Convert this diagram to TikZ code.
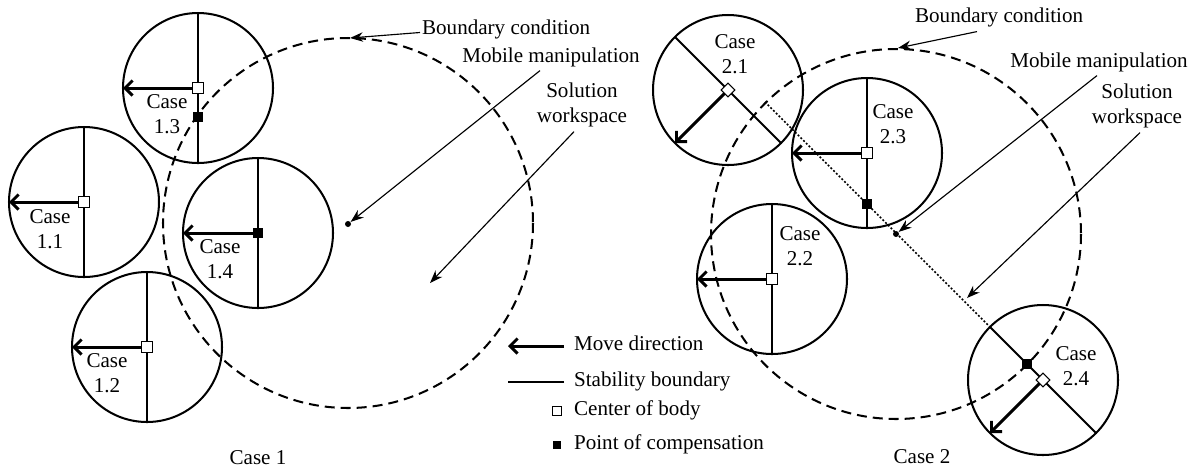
\documentclass[tikz,border=0pt]{standalone}
\usepackage{fontspec}
\setmainfont{Liberation Serif}
\usetikzlibrary{arrows.meta,shapes.geometric}

\begin{document}
\begin{tikzpicture}[x=0.02cm,y=-0.02cm,
  lbl/.style={font=\fontsize{12}{14.2}\selectfont, inner sep=1pt},
  one/.style={lbl, text height=1.6ex, text depth=0.5ex},
  casetxt/.style={lbl, align=center},
  zone/.style={line width=1.15pt},
  bound/.style={line width=1.15pt, dash pattern=on 0.2cm off 0.12cm},
  move/.style={line width=1.7pt, -{Straight Barb[length=0.15cm,width=0.3cm]}},
  note/.style={line width=0.65pt, -{Stealth[length=0.26cm,width=0.19cm]}},
  cob/.style={draw, fill=white, line width=0.6pt, inner sep=0pt, minimum size=0.21cm},
  poc/.style={fill=black, inner sep=0pt, minimum size=0.2cm},
  cobd/.style={diamond, draw, fill=white, line width=0.6pt, inner sep=0pt, minimum size=0.28cm},
  mm/.style={circle, fill=black, inner sep=0pt, minimum size=0.12cm},
]
\useasboundingbox (0,0) rectangle (1204,468);

% ---------------- Case 1 ----------------
\coordinate (c13) at (198,88);
\coordinate (c11) at (84,202);
\coordinate (c14) at (258,233);
\coordinate (c12) at (147,347);
\coordinate (w1) at (348,223);

\foreach \c in {c13,c11,c14,c12}{
  \draw[zone] (\c) circle[radius=75];
  \draw[zone] (\c) ++(0,-75) -- ++(0,150);
  \draw[move] (\c) -- ++(-75,0);
}
\draw[bound] (w1) circle[radius=185];

\node[cob] (b13) at (c13) {};
\node[poc] (p13) at (198,117) {};
\node[cob] (b11) at (c11) {};
\node[poc] (p14) at (c14) {};
\node[cob] (b12) at (c12) {};
\node[mm] (mm1) at (348,224) {};

\node[casetxt] (t13) at (167,114.5) {Case\\1.3};
\node[casetxt] (t11) at (50,229.5) {Case\\1.1};
\node[casetxt] (t14) at (220,259.5) {Case\\1.4};
\node[casetxt] (t12) at (107,373) {Case\\1.2};

\node[one, anchor=west] (bc1) at (420,30) {Boundary condition};
\coordinate (bc1p) at (350,38);
\draw[note] ([yshift=-0.05cm]bc1.west) -- (bc1p);

\node[one] (mmt1) at (551,58) {Mobile manipulation};
\draw[note] ([xshift=-0.22cm,yshift=-0.04cm]mmt1.south) -- (mm1);

\node[casetxt] (swt1) at (582,104.5) {Solution\\workspace};
\coordinate (sw1p) at (430,283);
\draw[note] ([xshift=-0.16cm,yshift=-0.06cm]swt1.south) -- (sw1p);

\node[lbl] (cap1) at (258,458) {Case 1};

% ---------------- Case 2 ----------------
\coordinate (c21) at (728,90);
\coordinate (c23) at (867,153);
\coordinate (c22) at (772,279);
\coordinate (c24) at (1043,380);
\coordinate (w2) at (896,234);

\foreach \c in {c21,c23,c22,c24}{
  \draw[zone] (\c) circle[radius=75];
}
\draw[zone] (c23) ++(0,-75) -- ++(0,150);
\draw[zone] (c22) ++(0,-75) -- ++(0,150);
\draw[zone] (c21) ++(-53,-53) -- ++(106,106);
\draw[zone] (c24) ++(-53,-53) -- ++(106,106);
\draw[move] (c23) -- ++(-75,0);
\draw[move] (c22) -- ++(-75,0);
\draw[move] (c21) -- ++(-53,53);
\draw[move] (c24) -- ++(-53,53);
\draw[bound] (w2) circle[radius=185];

% line of compensation points
\coordinate (d1) at (765,102);
\coordinate (d2) at (990,327);
\draw[line width=0.9pt, dash pattern=on 1.1pt off 1.1pt] (d1) -- (d2);

\node[cobd] (b21) at (c21) {};
\node[cob] (b23) at (c23) {};
\node[poc] (p23) at (867,204) {};
\node[cob] (b22) at (c22) {};
\node[poc] (p24) at (1027,364) {};
\node[cobd] (b24) at (c24) {};
\node[mm] (mm2) at (896,234) {};

\node[casetxt] (t21) at (735,54.5) {Case\\2.1};
\node[casetxt] (t23) at (893,124.5) {Case\\2.3};
\node[casetxt] (t22) at (800,246.5) {Case\\2.2};
\node[casetxt] (t24) at (1076,366.5) {Case\\2.4};

\node[one, anchor=west] (bc2) at (913,18) {Boundary condition};
\coordinate (bc2p) at (898,48);
\draw[note] ([xshift=1.28cm,yshift=-0.06cm]bc2.south west) -- (bc2p);

\node[one] (mmt2) at (1099,63) {Mobile manipulation};
\draw[note] ([xshift=-0.04cm,yshift=-0.04cm]mmt2.south) -- (mm2);

\node[casetxt] (swt2) at (1137,105.5) {Solution\\workspace};
\coordinate (sw2p) at (967,298);
\draw[note] ([xshift=0.06cm,yshift=-0.06cm]swt2.south) -- (sw2p);

\node[lbl] (cap2) at (922,457) {Case 2};

% ---------------- Legend ----------------
\node[one, anchor=west] (lg1) at (572,346) {Move direction};
\node[one, anchor=west] (lg2) at (572,382) {Stability boundary};
\node[one, anchor=west] (lg3) at (572,411) {Center of body};
\node[one, anchor=west] (lg4) at (572,445) {Point of compensation};
\draw[move] ([xshift=-0.16cm]lg1.west) -- ++(-56,0);
\draw[zone] ([xshift=-0.16cm]lg2.west) -- ++(-56,0);
\node[cob, minimum size=0.17cm] (lgb) at (557,411) {};
\node[poc, minimum size=0.17cm] (lgp) at (557,445) {};
\end{tikzpicture}
\end{document}
